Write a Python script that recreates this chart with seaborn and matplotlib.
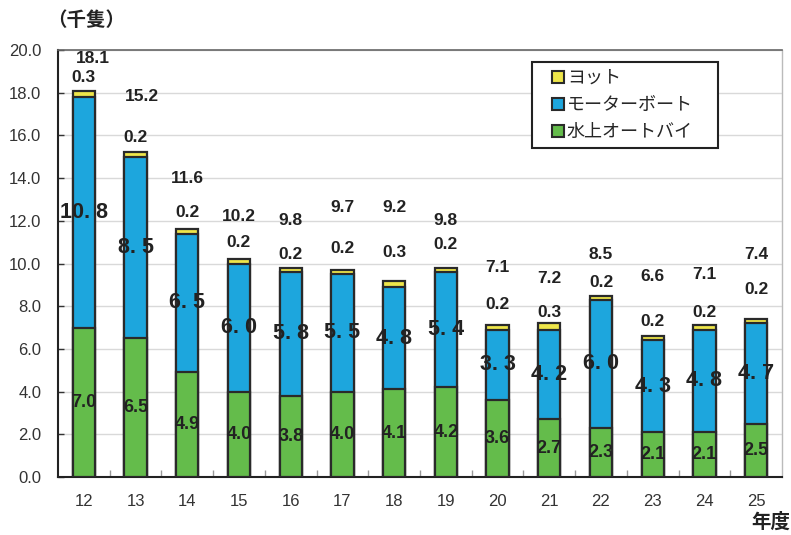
import matplotlib
matplotlib.use("Agg")
import matplotlib.pyplot as plt
from matplotlib.font_manager import FontProperties
from matplotlib.lines import Line2D
import numpy as np
import pandas as pd
import seaborn as sns

# ---- data ----
years = ["12", "13", "14", "15", "16", "17", "18", "19", "20", "21", "22", "23", "24", "25"]
jetski = [7.0, 6.5, 4.9, 4.0, 3.8, 4.0, 4.1, 4.2, 3.6, 2.7, 2.3, 2.1, 2.1, 2.5]
motorboat = [10.8, 8.5, 6.5, 6.0, 5.8, 5.5, 4.8, 5.4, 3.3, 4.2, 6.0, 4.3, 4.8, 4.7]
yacht = [0.3, 0.2, 0.2, 0.2, 0.2, 0.2, 0.3, 0.2, 0.2, 0.3, 0.2, 0.2, 0.2, 0.2]
totals = [18.1, 15.2, 11.6, 10.2, 9.8, 9.7, 9.2, 9.8, 7.1, 7.2, 8.5, 6.6, 7.1, 7.4]
series_names = ["ヨット", "モーターボート", "水上オートバイ"]
yticks = [0.0, 2.0, 4.0, 6.0, 8.0, 10.0, 12.0, 14.0, 16.0, 18.0, 20.0]

# label layout (offsets above bar top, in data units)
yacht_gap = [0.6, 0.7, 0.8, 0.8, 0.6, 1.0, 1.3, 1.1, 1.0, 0.5, 0.6, 0.7, 0.6, 1.4]
total_gap = [1.5, 2.6, 2.4, 2.0, 2.2, 2.9, 3.4, 2.2, 2.7, 2.1, 1.9, 2.8, 2.4, 3.0]
total_dx = [0.17, 0.13, 0, 0, 0, 0, 0, 0, 0, 0, 0, 0, 0, 0]

C_Y = "#EEE64A"
C_B = "#1DA6DD"
C_G = "#64BC4B"
EDGE = "#2A2A2A"

sns.set_theme(style="white")
plt.rcParams["font.family"] = ["Liberation Sans", "Noto Sans CJK JP", "DejaVu Sans"]

green_fp = FontProperties(family="Liberation Sans", weight="bold", size=13)
blue_fp = FontProperties(family="Liberation Sans", weight="bold", size=15.5)

df = pd.DataFrame({"year": years, "jet": jetski, "motor": motorboat, "yacht": yacht})
df["c2"] = df["jet"] + df["motor"]
df["c3"] = df["c2"] + df["yacht"]

fig = plt.figure(figsize=(7.91, 5.35), dpi=100)
ax = fig.add_axes([58 / 791, 1 - 477 / 535, 724 / 791, 427 / 535])

bw = 0.43
for col, color in [("c3", C_Y), ("c2", C_B), ("jet", C_G)]:
    sns.barplot(data=df, x="year", y=col, color=color, width=bw, ax=ax,
                edgecolor=EDGE, linewidth=1.6, saturation=1, errorbar=None,
                zorder=3)

ax.set_xlim(-0.5, len(years) - 0.5)
ax.set_ylim(0, 20)
ax.set_yticks(yticks)
ax.set_yticklabels([f"{v:.1f}" for v in yticks], fontsize=12, color="#333333")
ax.set_xticks(range(len(years)))
ax.set_xticklabels(years, fontsize=12, color="#333333")
ax.set_xlabel("")
ax.set_ylabel("")
ax.tick_params(axis="x", length=0, pad=12)
ax.tick_params(axis="y", direction="in", length=4, width=1, color="#333333", pad=12, left=True)
ax.set_xticks(np.arange(0.5, len(years) - 0.5, 1.0), minor=True)
ax.tick_params(axis="x", which="minor", direction="in", length=5, width=1, color="#999999", bottom=True)

ax.yaxis.grid(True, color="#D9D9D9", linewidth=1, zorder=0)
ax.set_axisbelow(True)
for s in ["left", "bottom"]:
    ax.spines[s].set_color("#222222")
    ax.spines[s].set_linewidth(1.5)
ax.spines["top"].set_color("#666666")
ax.spines["top"].set_linewidth(1.2)
ax.spines["right"].set_color("#BBBBBB")
ax.spines["right"].set_linewidth(1.0)

# labels
for i in range(len(years)):
    ax.text(i, jetski[i] / 2, f"{jetski[i]:.1f}", ha="center", va="center",
            fontproperties=green_fp, color="#222222", zorder=5)
    ax.text(i, jetski[i] + motorboat[i] / 2, f"{motorboat[i]:.1f}".replace(".", ". "),
            ha="center", va="center", fontproperties=blue_fp, color="#222222", zorder=5)
    top = jetski[i] + motorboat[i] + yacht[i]
    ax.text(i, top + yacht_gap[i], f"{yacht[i]:.1f}", ha="center", va="center",
            fontsize=12.5, fontweight="bold", color="#222222", zorder=5)
    ax.text(i + total_dx[i], top + total_gap[i], f"{totals[i]:.1f}", ha="center", va="center",
            fontsize=12.5, fontweight="bold", color="#222222", zorder=5)

# legend
handles = [Line2D([0], [0], marker="s", linestyle="", markersize=8,
                  markerfacecolor=c, markeredgecolor=EDGE, markeredgewidth=1.5)
           for c in [C_Y, C_B, C_G]]
leg = ax.legend(handles, series_names, loc="upper left",
                bbox_to_anchor=(0.6547, 0.768, 0.2569, 0.2037), mode="expand",
                borderaxespad=0, frameon=True, fancybox=False, framealpha=1,
                prop={"family": ["Noto Sans CJK JP", "DejaVu Sans"], "size": 13},
                handlelength=2.1, handletextpad=-0.55, labelspacing=0.5, borderpad=0.38)
leg.get_frame().set_edgecolor("#222222")
leg.get_frame().set_linewidth(1.5)
leg.set_zorder(10)

fig.text(47 / 791, 1 - 20 / 535, "（千隻）", ha="left", va="center", fontsize=14,
         fontweight="bold", family=["Noto Sans CJK JP", "DejaVu Sans"], color="#222222")
fig.text(790 / 791, 1 - 522 / 535, "年度", ha="right", va="center", fontsize=14,
         fontweight="bold", family=["Noto Sans CJK JP", "DejaVu Sans"], color="#222222")

fig.savefig("out.png", dpi=100)
